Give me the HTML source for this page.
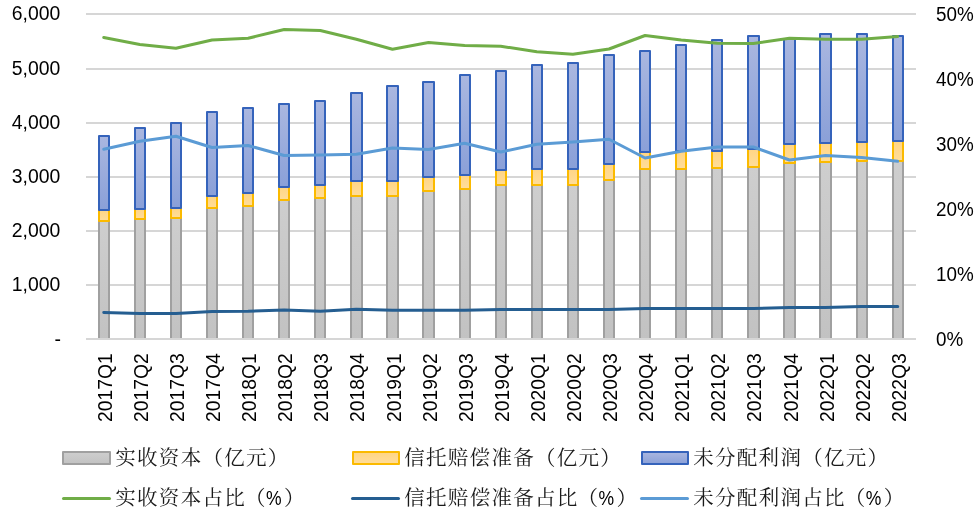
<!DOCTYPE html>
<html><head><meta charset="utf-8"><title>chart</title>
<style>html,body{margin:0;padding:0;background:#fff}svg{display:block;will-change:transform}text{font-family:"Liberation Sans",sans-serif;fill:#000}text.cj{font-family:"Liberation Serif","Noto Serif CJK SC",serif;fill:#1a1a1a}</style></head><body>
<svg width="980" height="514" viewBox="0 0 980 514">
<defs>
<linearGradient id="gb" x1="0" y1="0" x2="0" y2="1"><stop offset="0" stop-color="#aab7e0"/><stop offset="1" stop-color="#8aa0d8"/></linearGradient>
<linearGradient id="gy" x1="0" y1="0" x2="0" y2="1"><stop offset="0" stop-color="#ffd585"/><stop offset="1" stop-color="#ffdd9a"/></linearGradient>
<linearGradient id="gg" x1="0" y1="0" x2="0" y2="1"><stop offset="0" stop-color="#cecece"/><stop offset="1" stop-color="#c2c2c2"/></linearGradient>
</defs>
<rect width="980" height="514" fill="#fff"/>
<g stroke="#d6d6d6" stroke-width="2">
<line x1="86" y1="285.00" x2="916" y2="285.00"/>
<line x1="86" y1="231.00" x2="916" y2="231.00"/>
<line x1="86" y1="177.00" x2="916" y2="177.00"/>
<line x1="86" y1="123.00" x2="916" y2="123.00"/>
<line x1="86" y1="69.00" x2="916" y2="69.00"/>
<line x1="86" y1="14.00" x2="916" y2="14.00"/>
</g>
<rect x="98" y="221" width="12" height="118" fill="#a0a0a0"/><rect x="100" y="221" width="8" height="118" fill="url(#gg)"/>
<rect x="99" y="210" width="10" height="11" fill="url(#gy)" stroke="#fbba00" stroke-width="2" stroke-linejoin="round"/>
<rect x="99" y="136" width="10" height="74" fill="url(#gb)" stroke="#3563bb" stroke-width="2" stroke-linejoin="round"/>
<rect x="134" y="219" width="12" height="120" fill="#a0a0a0"/><rect x="136" y="219" width="8" height="120" fill="url(#gg)"/>
<rect x="135" y="209" width="10" height="10" fill="url(#gy)" stroke="#fbba00" stroke-width="2" stroke-linejoin="round"/>
<rect x="135" y="128" width="10" height="81" fill="url(#gb)" stroke="#3563bb" stroke-width="2" stroke-linejoin="round"/>
<rect x="170" y="218" width="12" height="121" fill="#a0a0a0"/><rect x="172" y="218" width="8" height="121" fill="url(#gg)"/>
<rect x="171" y="208" width="10" height="10" fill="url(#gy)" stroke="#fbba00" stroke-width="2" stroke-linejoin="round"/>
<rect x="171" y="123" width="10" height="85" fill="url(#gb)" stroke="#3563bb" stroke-width="2" stroke-linejoin="round"/>
<rect x="206" y="208" width="12" height="131" fill="#a0a0a0"/><rect x="208" y="208" width="8" height="131" fill="url(#gg)"/>
<rect x="207" y="196" width="10" height="12" fill="url(#gy)" stroke="#fbba00" stroke-width="2" stroke-linejoin="round"/>
<rect x="207" y="112" width="10" height="84" fill="url(#gb)" stroke="#3563bb" stroke-width="2" stroke-linejoin="round"/>
<rect x="242" y="206" width="12" height="133" fill="#a0a0a0"/><rect x="244" y="206" width="8" height="133" fill="url(#gg)"/>
<rect x="243" y="193" width="10" height="13" fill="url(#gy)" stroke="#fbba00" stroke-width="2" stroke-linejoin="round"/>
<rect x="243" y="108" width="10" height="85" fill="url(#gb)" stroke="#3563bb" stroke-width="2" stroke-linejoin="round"/>
<rect x="278" y="200" width="12" height="139" fill="#a0a0a0"/><rect x="280" y="200" width="8" height="139" fill="url(#gg)"/>
<rect x="279" y="187" width="10" height="13" fill="url(#gy)" stroke="#fbba00" stroke-width="2" stroke-linejoin="round"/>
<rect x="279" y="104" width="10" height="83" fill="url(#gb)" stroke="#3563bb" stroke-width="2" stroke-linejoin="round"/>
<rect x="314" y="198" width="12" height="141" fill="#a0a0a0"/><rect x="316" y="198" width="8" height="141" fill="url(#gg)"/>
<rect x="315" y="185" width="10" height="13" fill="url(#gy)" stroke="#fbba00" stroke-width="2" stroke-linejoin="round"/>
<rect x="315" y="101" width="10" height="84" fill="url(#gb)" stroke="#3563bb" stroke-width="2" stroke-linejoin="round"/>
<rect x="350" y="196" width="13" height="143" fill="#a0a0a0"/><rect x="352" y="196" width="9" height="143" fill="url(#gg)"/>
<rect x="351" y="181" width="11" height="15" fill="url(#gy)" stroke="#fbba00" stroke-width="2" stroke-linejoin="round"/>
<rect x="351" y="93" width="11" height="88" fill="url(#gb)" stroke="#3563bb" stroke-width="2" stroke-linejoin="round"/>
<rect x="386" y="196" width="13" height="143" fill="#a0a0a0"/><rect x="388" y="196" width="9" height="143" fill="url(#gg)"/>
<rect x="387" y="181" width="11" height="15" fill="url(#gy)" stroke="#fbba00" stroke-width="2" stroke-linejoin="round"/>
<rect x="387" y="86" width="11" height="95" fill="url(#gb)" stroke="#3563bb" stroke-width="2" stroke-linejoin="round"/>
<rect x="422" y="191" width="13" height="148" fill="#a0a0a0"/><rect x="424" y="191" width="9" height="148" fill="url(#gg)"/>
<rect x="423" y="177" width="11" height="14" fill="url(#gy)" stroke="#fbba00" stroke-width="2" stroke-linejoin="round"/>
<rect x="423" y="82" width="11" height="95" fill="url(#gb)" stroke="#3563bb" stroke-width="2" stroke-linejoin="round"/>
<rect x="459" y="189" width="12" height="150" fill="#a0a0a0"/><rect x="461" y="189" width="8" height="150" fill="url(#gg)"/>
<rect x="460" y="175" width="10" height="14" fill="url(#gy)" stroke="#fbba00" stroke-width="2" stroke-linejoin="round"/>
<rect x="460" y="75" width="10" height="100" fill="url(#gb)" stroke="#3563bb" stroke-width="2" stroke-linejoin="round"/>
<rect x="495" y="185" width="12" height="154" fill="#a0a0a0"/><rect x="497" y="185" width="8" height="154" fill="url(#gg)"/>
<rect x="496" y="170" width="10" height="15" fill="url(#gy)" stroke="#fbba00" stroke-width="2" stroke-linejoin="round"/>
<rect x="496" y="71" width="10" height="99" fill="url(#gb)" stroke="#3563bb" stroke-width="2" stroke-linejoin="round"/>
<rect x="531" y="185" width="12" height="154" fill="#a0a0a0"/><rect x="533" y="185" width="8" height="154" fill="url(#gg)"/>
<rect x="532" y="169" width="10" height="16" fill="url(#gy)" stroke="#fbba00" stroke-width="2" stroke-linejoin="round"/>
<rect x="532" y="65" width="10" height="104" fill="url(#gb)" stroke="#3563bb" stroke-width="2" stroke-linejoin="round"/>
<rect x="567" y="185" width="12" height="154" fill="#a0a0a0"/><rect x="569" y="185" width="8" height="154" fill="url(#gg)"/>
<rect x="568" y="169" width="10" height="16" fill="url(#gy)" stroke="#fbba00" stroke-width="2" stroke-linejoin="round"/>
<rect x="568" y="63" width="10" height="106" fill="url(#gb)" stroke="#3563bb" stroke-width="2" stroke-linejoin="round"/>
<rect x="603" y="180" width="12" height="159" fill="#a0a0a0"/><rect x="605" y="180" width="8" height="159" fill="url(#gg)"/>
<rect x="604" y="164" width="10" height="16" fill="url(#gy)" stroke="#fbba00" stroke-width="2" stroke-linejoin="round"/>
<rect x="604" y="55" width="10" height="109" fill="url(#gb)" stroke="#3563bb" stroke-width="2" stroke-linejoin="round"/>
<rect x="639" y="169" width="12" height="170" fill="#a0a0a0"/><rect x="641" y="169" width="8" height="170" fill="url(#gg)"/>
<rect x="640" y="152" width="10" height="17" fill="url(#gy)" stroke="#fbba00" stroke-width="2" stroke-linejoin="round"/>
<rect x="640" y="51" width="10" height="101" fill="url(#gb)" stroke="#3563bb" stroke-width="2" stroke-linejoin="round"/>
<rect x="675" y="169" width="12" height="170" fill="#a0a0a0"/><rect x="677" y="169" width="8" height="170" fill="url(#gg)"/>
<rect x="676" y="151" width="10" height="18" fill="url(#gy)" stroke="#fbba00" stroke-width="2" stroke-linejoin="round"/>
<rect x="676" y="45" width="10" height="106" fill="url(#gb)" stroke="#3563bb" stroke-width="2" stroke-linejoin="round"/>
<rect x="711" y="168" width="12" height="171" fill="#a0a0a0"/><rect x="713" y="168" width="8" height="171" fill="url(#gg)"/>
<rect x="712" y="151" width="10" height="17" fill="url(#gy)" stroke="#fbba00" stroke-width="2" stroke-linejoin="round"/>
<rect x="712" y="40" width="10" height="111" fill="url(#gb)" stroke="#3563bb" stroke-width="2" stroke-linejoin="round"/>
<rect x="747" y="167" width="13" height="172" fill="#a0a0a0"/><rect x="749" y="167" width="9" height="172" fill="url(#gg)"/>
<rect x="748" y="149" width="11" height="18" fill="url(#gy)" stroke="#fbba00" stroke-width="2" stroke-linejoin="round"/>
<rect x="748" y="36" width="11" height="113" fill="url(#gb)" stroke="#3563bb" stroke-width="2" stroke-linejoin="round"/>
<rect x="783" y="163" width="13" height="176" fill="#a0a0a0"/><rect x="785" y="163" width="9" height="176" fill="url(#gg)"/>
<rect x="784" y="144" width="11" height="19" fill="url(#gy)" stroke="#fbba00" stroke-width="2" stroke-linejoin="round"/>
<rect x="784" y="39" width="11" height="105" fill="url(#gb)" stroke="#3563bb" stroke-width="2" stroke-linejoin="round"/>
<rect x="819" y="162" width="13" height="177" fill="#a0a0a0"/><rect x="821" y="162" width="9" height="177" fill="url(#gg)"/>
<rect x="820" y="143" width="11" height="19" fill="url(#gy)" stroke="#fbba00" stroke-width="2" stroke-linejoin="round"/>
<rect x="820" y="34" width="11" height="109" fill="url(#gb)" stroke="#3563bb" stroke-width="2" stroke-linejoin="round"/>
<rect x="856" y="161" width="12" height="178" fill="#a0a0a0"/><rect x="858" y="161" width="8" height="178" fill="url(#gg)"/>
<rect x="857" y="142" width="10" height="19" fill="url(#gy)" stroke="#fbba00" stroke-width="2" stroke-linejoin="round"/>
<rect x="857" y="34" width="10" height="108" fill="url(#gb)" stroke="#3563bb" stroke-width="2" stroke-linejoin="round"/>
<rect x="892" y="161" width="12" height="178" fill="#a0a0a0"/><rect x="894" y="161" width="8" height="178" fill="url(#gg)"/>
<rect x="893" y="141" width="10" height="20" fill="url(#gy)" stroke="#fbba00" stroke-width="2" stroke-linejoin="round"/>
<rect x="893" y="36" width="10" height="105" fill="url(#gb)" stroke="#3563bb" stroke-width="2" stroke-linejoin="round"/>
<line x1="86" y1="339.0" x2="916" y2="339.0" stroke="#d6d6d6" stroke-width="2"/>
<polyline points="103.75,37.50 139.84,44.50 175.93,48.25 212.02,40.00 248.11,38.25 284.20,29.50 320.29,30.50 356.38,39.25 392.47,49.25 428.56,42.50 464.65,45.50 500.74,46.25 536.83,51.75 572.92,54.25 609.01,49.00 645.10,35.50 681.19,40.00 717.28,43.25 753.37,43.50 789.46,38.25 825.55,39.25 861.64,39.25 897.73,36.50" fill="none" stroke="#70ad47" stroke-width="3" stroke-linecap="round" stroke-linejoin="round"/>
<polyline points="103.75,312.50 139.84,313.50 175.93,313.50 212.02,311.50 248.11,311.25 284.20,310.00 320.29,311.25 356.38,309.25 392.47,310.25 428.56,310.25 464.65,310.25 500.74,309.50 536.83,309.50 572.92,309.50 609.01,309.50 645.10,308.50 681.19,308.50 717.28,308.50 753.37,308.50 789.46,307.50 825.55,307.50 861.64,306.50 897.73,306.50" fill="none" stroke="#255e91" stroke-width="3" stroke-linecap="round" stroke-linejoin="round"/>
<polyline points="103.75,149.25 139.84,141.25 175.93,136.25 212.02,147.50 248.11,145.50 284.20,155.50 320.29,155.00 356.38,154.25 392.47,148.00 428.56,149.50 464.65,143.25 500.74,152.00 536.83,144.25 572.92,142.00 609.01,139.25 645.10,158.00 681.19,151.25 717.28,147.00 753.37,147.00 789.46,160.00 825.55,155.50 861.64,157.50 897.73,161.25" fill="none" stroke="#5b9bd5" stroke-width="3" stroke-linecap="round" stroke-linejoin="round"/>
<text transform="translate(61.0,346.25) scale(0.985,1)" font-size="19.7" text-anchor="end">-</text>
<text transform="translate(60.3,291.15) scale(0.985,1)" font-size="19.7" text-anchor="end">1,000</text>
<text transform="translate(60.3,237.15) scale(0.985,1)" font-size="19.7" text-anchor="end">2,000</text>
<text transform="translate(60.3,183.15) scale(0.985,1)" font-size="19.7" text-anchor="end">3,000</text>
<text transform="translate(60.3,129.15) scale(0.985,1)" font-size="19.7" text-anchor="end">4,000</text>
<text transform="translate(60.3,75.15) scale(0.985,1)" font-size="19.7" text-anchor="end">5,000</text>
<text transform="translate(60.3,20.15) scale(0.985,1)" font-size="19.7" text-anchor="end">6,000</text>
<text transform="translate(936,346.05) scale(0.957,1)" font-size="19.7">0%</text>
<text transform="translate(936,281.05) scale(0.957,1)" font-size="19.7">10%</text>
<text transform="translate(936,216.05) scale(0.957,1)" font-size="19.7">20%</text>
<text transform="translate(936,151.05) scale(0.957,1)" font-size="19.7">30%</text>
<text transform="translate(936,86.05) scale(0.957,1)" font-size="19.7">40%</text>
<text transform="translate(936,21.05) scale(0.957,1)" font-size="19.7">50%</text>
<text transform="translate(111.85,353.2) rotate(-90) scale(0.955,1)" font-size="20.25" text-anchor="end">2017Q1</text>
<text transform="translate(147.94,353.2) rotate(-90) scale(0.955,1)" font-size="20.25" text-anchor="end">2017Q2</text>
<text transform="translate(184.03,353.2) rotate(-90) scale(0.955,1)" font-size="20.25" text-anchor="end">2017Q3</text>
<text transform="translate(220.12,353.2) rotate(-90) scale(0.955,1)" font-size="20.25" text-anchor="end">2017Q4</text>
<text transform="translate(256.21,353.2) rotate(-90) scale(0.955,1)" font-size="20.25" text-anchor="end">2018Q1</text>
<text transform="translate(292.30,353.2) rotate(-90) scale(0.955,1)" font-size="20.25" text-anchor="end">2018Q2</text>
<text transform="translate(328.39,353.2) rotate(-90) scale(0.955,1)" font-size="20.25" text-anchor="end">2018Q3</text>
<text transform="translate(364.48,353.2) rotate(-90) scale(0.955,1)" font-size="20.25" text-anchor="end">2018Q4</text>
<text transform="translate(400.57,353.2) rotate(-90) scale(0.955,1)" font-size="20.25" text-anchor="end">2019Q1</text>
<text transform="translate(436.66,353.2) rotate(-90) scale(0.955,1)" font-size="20.25" text-anchor="end">2019Q2</text>
<text transform="translate(472.75,353.2) rotate(-90) scale(0.955,1)" font-size="20.25" text-anchor="end">2019Q3</text>
<text transform="translate(508.84,353.2) rotate(-90) scale(0.955,1)" font-size="20.25" text-anchor="end">2019Q4</text>
<text transform="translate(544.93,353.2) rotate(-90) scale(0.955,1)" font-size="20.25" text-anchor="end">2020Q1</text>
<text transform="translate(581.02,353.2) rotate(-90) scale(0.955,1)" font-size="20.25" text-anchor="end">2020Q2</text>
<text transform="translate(617.11,353.2) rotate(-90) scale(0.955,1)" font-size="20.25" text-anchor="end">2020Q3</text>
<text transform="translate(653.20,353.2) rotate(-90) scale(0.955,1)" font-size="20.25" text-anchor="end">2020Q4</text>
<text transform="translate(689.29,353.2) rotate(-90) scale(0.955,1)" font-size="20.25" text-anchor="end">2021Q1</text>
<text transform="translate(725.38,353.2) rotate(-90) scale(0.955,1)" font-size="20.25" text-anchor="end">2021Q2</text>
<text transform="translate(761.47,353.2) rotate(-90) scale(0.955,1)" font-size="20.25" text-anchor="end">2021Q3</text>
<text transform="translate(797.56,353.2) rotate(-90) scale(0.955,1)" font-size="20.25" text-anchor="end">2021Q4</text>
<text transform="translate(833.65,353.2) rotate(-90) scale(0.955,1)" font-size="20.25" text-anchor="end">2022Q1</text>
<text transform="translate(869.74,353.2) rotate(-90) scale(0.955,1)" font-size="20.25" text-anchor="end">2022Q2</text>
<text transform="translate(905.83,353.2) rotate(-90) scale(0.955,1)" font-size="20.25" text-anchor="end">2022Q3</text>
<g fill="#1a1a1a">
<rect x="63" y="452" width="47" height="12" fill="url(#gg)" stroke="#a0a0a0" stroke-width="2" stroke-linejoin="round"/>
<text class="cj" x="115.27" y="464.5" font-size="20.5" textLength="173" lengthAdjust="spacing">实收资本（亿元）</text>
<line x1="63.5" y1="498.55" x2="109.5" y2="498.55" stroke="#70ad47" stroke-width="3" stroke-linecap="round"/>
<text class="cj" x="115.27" y="504.65" font-size="20.5" textLength="129.5" lengthAdjust="spacing">实收资本占比</text><text class="cj" x="245" y="504.65" font-size="20.5">（</text><text transform="translate(266.05,505.00) scale(0.91,1)" font-size="19.3">%</text><text class="cj" x="284" y="504.65" font-size="20.5">）</text>
<rect x="353" y="452" width="46" height="12" fill="url(#gy)" stroke="#fbba00" stroke-width="2" stroke-linejoin="round"/>
<text class="cj" x="404.28" y="464.5" font-size="20.5" textLength="216.5" lengthAdjust="spacing">信托赔偿准备（亿元）</text>
<line x1="352.5" y1="498.55" x2="398.5" y2="498.55" stroke="#255e91" stroke-width="3" stroke-linecap="round"/>
<text class="cj" x="404.28" y="504.65" font-size="20.5" textLength="173" lengthAdjust="spacing">信托赔偿准备占比</text><text class="cj" x="577.5" y="504.65" font-size="20.5">（</text><text transform="translate(598.55,505.00) scale(0.91,1)" font-size="19.3">%</text><text class="cj" x="616.5" y="504.65" font-size="20.5">）</text>
<rect x="642" y="452" width="46" height="12" fill="url(#gb)" stroke="#3563bb" stroke-width="2" stroke-linejoin="round"/>
<text class="cj" x="693.27" y="464.5" font-size="20.5" textLength="194.75" lengthAdjust="spacing">未分配利润（亿元）</text>
<line x1="641.5" y1="498.55" x2="687.5" y2="498.55" stroke="#5b9bd5" stroke-width="3" stroke-linecap="round"/>
<text class="cj" x="693.27" y="504.65" font-size="20.5" textLength="151.25" lengthAdjust="spacing">未分配利润占比</text><text class="cj" x="844.7" y="504.65" font-size="20.5">（</text><text transform="translate(865.80,505.00) scale(0.91,1)" font-size="19.3">%</text><text class="cj" x="883.7" y="504.65" font-size="20.5">）</text>
</g>
</svg></body></html>
